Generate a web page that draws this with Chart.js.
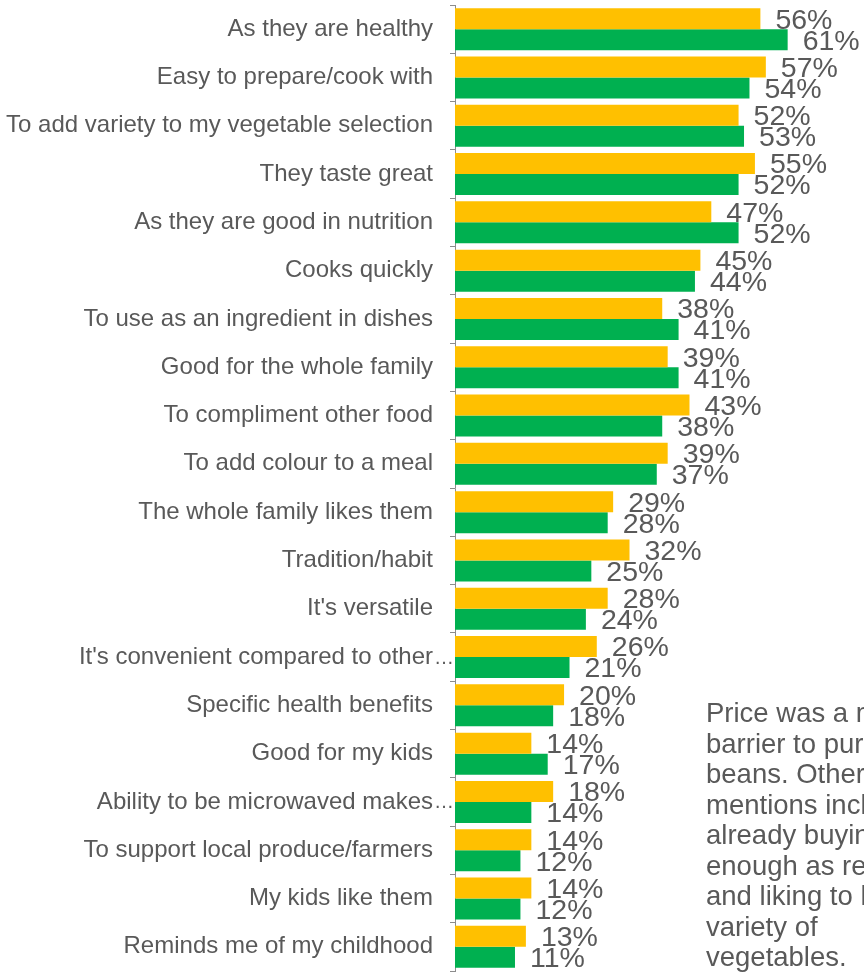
<!DOCTYPE html>
<html>
<head>
<meta charset="utf-8">
<script src="https://cdn.jsdelivr.net/npm/chart.js@4/dist/chart.umd.min.js"></script>
<style>
  html, body { margin: 0; padding: 0; background: #fff; overflow: hidden; }
  #wrap { position: absolute; left: 0; top: 0; width: 864px; height: 973px; }
  #note {
    position: absolute; left: 706px; top: 698px;
    font-family: "Liberation Sans", Arial, sans-serif;
    font-size: 27.5px; line-height: 30.5px; color: #595959;
    white-space: nowrap;
  }
</style>
</head>
<body>
<div id="wrap"><canvas id="chart"></canvas></div>
<div id="note">Price was a major<br>barrier to purchasing<br>beans. Other<br>mentions included<br>already buying<br>enough as regular<br>and liking to have a<br>variety of<br>vegetables.</div>
<script>
// Data
const categories = [
    "As they are healthy",
    "Easy to prepare/cook with",
    "To add variety to my vegetable selection",
    "They taste great",
    "As they are good in nutrition",
    "Cooks quickly",
    "To use as an ingredient in dishes",
    "Good for the whole family",
    "To compliment other food",
    "To add colour to a meal",
    "The whole family likes them",
    "Tradition/habit",
    "It's versatile",
    "It's convenient compared to other\u2026",
    "Specific health benefits",
    "Good for my kids",
    "Ability to be microwaved makes\u2026",
    "To support local produce/farmers",
    "My kids like them",
    "Reminds me of my childhood"
];
const yellowValues = [56, 57, 52, 55, 47, 45, 38, 39, 43, 39, 29, 32, 28, 26, 20, 14, 18, 14, 14, 13];
const greenValues  = [61, 54, 53, 52, 52, 44, 41, 41, 38, 37, 28, 25, 24, 21, 18, 17, 14, 12, 12, 11];

const FONT = '"Liberation Sans", Arial, sans-serif';
const ELLIPSIS = '\u2026';

// label persen di ujung bar + titik-titik label yang terpotong
const valueLabels = {
    id: 'valueLabels',
    afterDatasetsDraw(chart) {
        const ctx = chart.ctx;
        ctx.save();
        ctx.font = '28.5px ' + FONT;
        ctx.fillStyle = '#595959';
        ctx.textAlign = 'left';
        ctx.textBaseline = 'middle';
        chart.data.datasets.forEach((ds, i) => {
            chart.getDatasetMeta(i).data.forEach((bar, j) => {
                ctx.fillText(ds.data[j] + '%', bar.x + 15, bar.y + 2);
            });
        });

        // ellipsis nongol melewati batas label (seperti aslinya)
        const yScale = chart.scales.y;
        const xText = yScale.right - 5 - 17;
        ctx.font = '20px ' + FONT;
        categories.forEach((c, i) => {
            if (c.endsWith(ELLIPSIS)) {
                ctx.fillText(ELLIPSIS, xText + 1, yScale.getPixelForTick(i) + 1);
            }
        });
        ctx.restore();
    }
};

const ctx = document.getElementById('chart').getContext('2d');
new Chart(ctx, {
    type: 'bar',
    data: {
        labels: categories,
        datasets: [
            { data: yellowValues, backgroundColor: '#FFC000', barPercentage: 1, categoryPercentage: 0.87 },
            { data: greenValues, backgroundColor: '#00B050', barPercentage: 1, categoryPercentage: 0.87 }
        ]
    },
    options: {
        indexAxis: 'y',
        responsive: true,
        maintainAspectRatio: false,
        animation: false,
        layout: { padding: { top: 5, bottom: 2, left: 0, right: 0 } },
        plugins: { legend: { display: false }, tooltip: { enabled: false } },
        scales: {
            x: { display: false, min: 0, max: 75 },
            y: {
                afterFit: (s) => {
                    s.width = 455;
                    s.paddingTop = 0;
                    s.paddingBottom = 0;
                },
                grid: { drawOnChartArea: false, tickLength: 5, color: '#8c8c8c', offset: true },
                border: { color: '#8c8c8c' },
                ticks: {
                    padding: 17,
                    color: '#595959',
                    font: { family: FONT, size: 24 },
                    autoSkip: false,
                    callback: (v, i) => categories[i].replace(ELLIPSIS, '')
                }
            }
        }
    },
    plugins: [valueLabels]
});
</script>
</body>
</html>
